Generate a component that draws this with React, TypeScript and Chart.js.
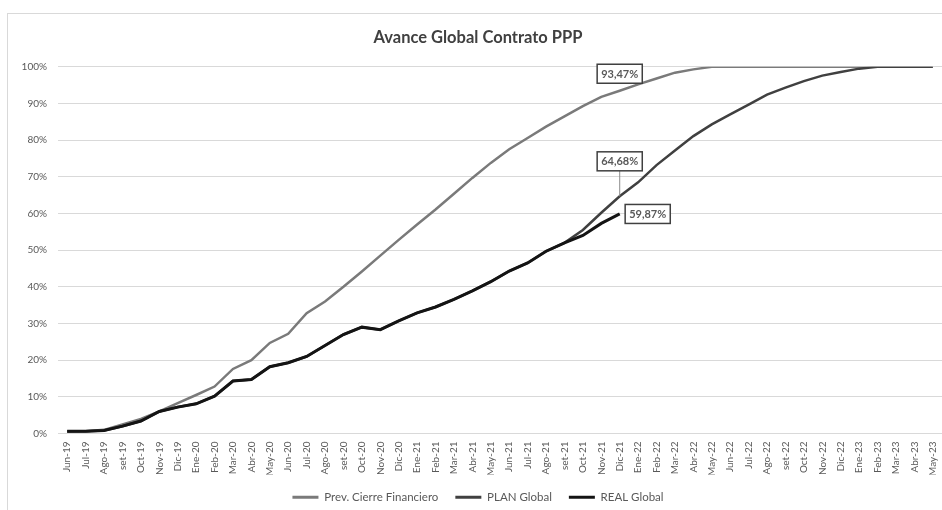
import React, { useEffect, useRef } from "react";
import { Chart, registerables } from "chart.js";

Chart.register(...registerables);

const MONTHS: string[] = [
  "Jun-19", "Jul-19", "Ago-19", "set-19", "Oct-19", "Nov-19", "Dic-19",
  "Ene-20", "Feb-20", "Mar-20", "Abr-20", "May-20", "Jun-20", "Jul-20", "Ago-20", "set-20", "Oct-20", "Nov-20", "Dic-20",
  "Ene-21", "Feb-21", "Mar-21", "Abr-21", "May-21", "Jun-21", "Jul-21", "Ago-21", "set-21", "Oct-21", "Nov-21", "Dic-21",
  "Ene-22", "Feb-22", "Mar-22", "Abr-22", "May-22", "Jun-22", "Jul-22", "Ago-22", "set-22", "Oct-22", "Nov-22", "Dic-22",
  "Ene-23", "Feb-23", "Mar-23", "Abr-23", "May-23",
];

const PREV_CIERRE: number[] = [
  0.5, 0.6, 1.0, 2.5, 4.0, 6.0, 8.3, 10.5, 12.8, 17.6, 20.0, 24.7, 27.2, 32.8, 36.0, 40.0, 44.2, 48.5, 52.8,
  57.0, 61.1, 65.4, 69.7, 73.8, 77.5, 80.6, 83.7, 86.5, 89.3, 91.8, 93.47,
  95.2, 96.8, 98.4, 99.3, 100, 100, 100, 100, 100, 100, 100, 100, 100, 100, 100, 100, 100,
];

const PLAN_GLOBAL: number[] = [
  0.6, 0.6, 0.8, 2.0, 3.4, 6.0, 7.2, 8.1, 10.2, 14.3, 14.7, 18.2, 19.3, 21.0, 24.0, 27.0, 29.0, 28.3, 30.7,
  32.9, 34.5, 36.6, 38.9, 41.4, 44.3, 46.5, 49.7, 52.0, 55.5, 60.2, 64.68,
  68.5, 73.2, 77.2, 81.1, 84.3, 87.0, 89.7, 92.4, 94.3, 96.1, 97.6, 98.6, 99.5, 100, 100, 100, 100,
];

const REAL_GLOBAL: number[] = [
  0.6, 0.6, 0.8, 2.0, 3.4, 6.0, 7.2, 8.1, 10.2, 14.3, 14.7, 18.2, 19.3, 21.0, 24.0, 27.0, 29.0, 28.3, 30.7,
  32.9, 34.5, 36.6, 38.9, 41.4, 44.3, 46.5, 49.7, 52.0, 54.0, 57.3, 59.87,
];

const SERIES_NAMES: string[] = ["Prev. Cierre Financiero", "PLAN Global", "REAL Global"];
const Y_TICKS: number[] = [0, 10, 20, 30, 40, 50, 60, 70, 80, 90, 100];

// callout styling (offsets relative to the library-computed point)
const CALLOUTS = [
  { dataset: 0, index: 30, dx: 0, dy: -17, leader: false },
  { dataset: 1, index: 30, dx: 0, dy: -35, leader: true },
  { dataset: 2, index: 30, dx: 28, dy: 0, leader: false },
];

const FONT = "Lato, 'Open Sans', sans-serif";
const TEXT = "#595959";

const calloutPlugin = {
  id: "callouts",
  afterDatasetsDraw(chart: any) {
    const ctx = chart.ctx;
    ctx.save();
    ctx.font = `bold 11px ${FONT}`;
    CALLOUTS.forEach((c) => {
      const meta = chart.getDatasetMeta(c.dataset);
      const pt = meta.data[c.index];
      if (!pt) return;
      const v = chart.data.datasets[c.dataset].data[c.index] as number;
      const text = v.toFixed(2).replace(".", ",") + "%";
      const cx = pt.x + c.dx;
      const cy = pt.y + c.dy;
      const w = ctx.measureText(text).width + 8;
      const h = 19;
      if (c.leader) {
        ctx.strokeStyle = "#8c8c8c";
        ctx.lineWidth = 1;
        ctx.beginPath();
        ctx.moveTo(cx, cy + h / 2);
        ctx.lineTo(pt.x, pt.y);
        ctx.stroke();
      }
      ctx.fillStyle = "#ffffff";
      ctx.fillRect(cx - w / 2, cy - h / 2, w, h);
      ctx.strokeStyle = "#404040";
      ctx.lineWidth = 1.5;
      ctx.strokeRect(cx - w / 2, cy - h / 2, w, h);
      ctx.fillStyle = TEXT;
      ctx.textAlign = "center";
      ctx.textBaseline = "middle";
      ctx.fillText(text, cx, cy + 0.5);
    });
    ctx.restore();
  },
};

export default function App() {
  const ref = useRef<HTMLCanvasElement | null>(null);

  useEffect(() => {
    if (!ref.current) return;
    const chart = new Chart(ref.current, {
      type: "line",
      data: {
        labels: MONTHS,
        datasets: [
          {
            label: SERIES_NAMES[0],
            data: PREV_CIERRE,
            borderColor: "#7a7a7a",
            backgroundColor: "#7a7a7a",
            borderWidth: 2.5,
            pointRadius: 0,
            order: 2,
          },
          {
            label: SERIES_NAMES[1],
            data: PLAN_GLOBAL,
            borderColor: "#404040",
            backgroundColor: "#404040",
            borderWidth: 2.5,
            pointRadius: 0,
            order: 1,
          },
          {
            label: SERIES_NAMES[2],
            data: REAL_GLOBAL,
            borderColor: "#141414",
            backgroundColor: "#141414",
            borderWidth: 3,
            pointRadius: 0,
            order: 0,
          },
        ],
      },
      options: {
        responsive: false,
        animation: false,
        layout: { padding: { left: 14, right: 0, top: 0, bottom: -3 } },
        plugins: {
          title: {
            display: true,
            text: "Avance Global Contrato PPP",
            color: "#404040",
            font: { family: FONT, size: 16.5, weight: "bold" },
            padding: { top: 28, bottom: 19 },
          },
          legend: {
            position: "bottom",
            labels: {
              color: TEXT,
              font: { family: FONT, size: 11.5 },
              boxWidth: 26,
              boxHeight: 3,
              padding: 17,
              sort: (a: any, b: any) => a.datasetIndex - b.datasetIndex,
              generateLabels: (chart: any) => {
                const items = Chart.defaults.plugins.legend.labels.generateLabels(chart);
                return items.map((it: any) => ({ ...it, lineWidth: 0 }));
              },
            },
          },
          tooltip: { enabled: false },
        },
        scales: {
          x: {
            offset: true,
            grid: { display: false, drawTicks: false },
            border: { display: true, color: "#d9d9d9" },
            ticks: {
              autoSkip: false,
              maxRotation: 90,
              minRotation: 90,
              padding: 8,
              color: TEXT,
              font: { family: FONT, size: 10 },
            },
            afterFit: (s: any) => {
              s.height = 41;
              s.paddingLeft = 0;
              s.paddingRight = 0;
            },
          },
          y: {
            min: 0,
            max: 100,
            afterBuildTicks: (s: any) => {
              s.ticks = Y_TICKS.map((v) => ({ value: v }));
            },
            grid: { color: "#d9d9d9", lineWidth: 1, drawTicks: false },
            border: { display: false },
            ticks: {
              padding: 11,
              color: TEXT,
              font: { family: FONT, size: 10 },
              callback: (v: any) => v + "%",
            },
            afterFit: (s: any) => {
              s.width = 44;
            },
          },
        },
      },
      plugins: [calloutPlugin],
    });
    return () => chart.destroy();
  }, []);

  return (
    <div
      style={{
        position: "absolute",
        left: 0,
        top: 0,
        width: 942,
        height: 510,
        overflow: "hidden",
        background: "#ffffff",
      }}
    >
      <div
        style={{
          position: "absolute",
          left: 7,
          top: 13,
          width: 1000,
          height: 600,
          borderLeft: "1px solid #d9d9d9",
          borderTop: "1px solid #d9d9d9",
        }}
      />
      <canvas ref={ref} width={942} height={510} style={{ position: "absolute", left: 0, top: 0 }} />
    </div>
  );
}
